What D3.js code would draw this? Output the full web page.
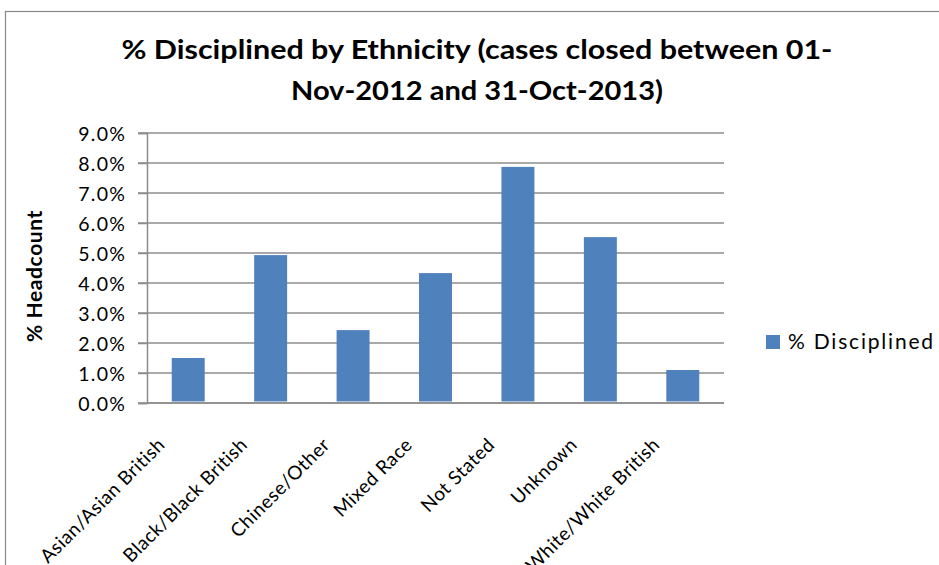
<!DOCTYPE html>
<html><head><meta charset="utf-8">
<script src="https://cdn.jsdelivr.net/npm/d3@7"></script>
<style>body{margin:0;background:#fff;} svg{display:block;}</style>
</head><body>
<script>
const categories = ["Asian/Asian British","Black/Black British","Chinese/Other","Mixed Race","Not Stated","Unknown","White/White British"];
const values = [0.015, 0.0493, 0.0243, 0.0433, 0.0787, 0.0553, 0.011];
const yTicks = [0,0.01,0.02,0.03,0.04,0.05,0.06,0.07,0.08,0.09];
const titleLines = ["% Disciplined by Ethnicity (cases closed between 01-","Nov-2012 and 31-Oct-2013)"];
const titleWidths = [711, 372];
const seriesName = "% Disciplined";

const W=939,H=565;
const font="Lato, 'Open Sans', sans-serif";
const svg=d3.select("body").append("svg").attr("width",W).attr("height",H);
svg.append("rect").attr("x",5.5).attr("y",11.5).attr("width",W).attr("height",H).attr("fill","#fff").attr("stroke","#888").attr("stroke-width",1.2);

const m={l:147,r:724,t:133,b:403};
const x=d3.scaleBand().domain(categories).range([m.l,m.r]).paddingInner(0.6).paddingOuter(0.3);
const y=d3.scaleLinear().domain([0,0.09]).range([m.b,m.t]);

// gridlines
svg.append("g").selectAll("line").data(yTicks).join("line")
 .attr("x1",138).attr("x2",m.r).attr("y1",d=>y(d)).attr("y2",d=>y(d))
 .attr("stroke","#8c8c8c").attr("stroke-width",1.5);
// y axis
const ya=svg.append("g").attr("transform",`translate(${m.l},0)`).call(d3.axisLeft(y).tickValues(yTicks).tickFormat(d3.format(".1%")).tickSize(9).tickPadding(12));
ya.select(".domain").attr("stroke","#8c8c8c").attr("stroke-width",1.5);
ya.selectAll(".tick line").attr("stroke","#8c8c8c").attr("stroke-width",1.5);
ya.selectAll("text").attr("font-family",font).attr("font-size",19.5).attr("letter-spacing",1.2).attr("fill","#000").attr("dy","0.36em");

// bars
svg.append("g").selectAll("rect").data(values).join("rect")
 .attr("x",(d,i)=>x(categories[i])).attr("width",x.bandwidth())
 .attr("y",d=>y(d)).attr("height",d=>y(0)-y(d)-1.5).attr("fill","#4f81bd");

// x axis line
svg.append("line").attr("x1",m.l).attr("x2",m.r).attr("y1",m.b).attr("y2",m.b).attr("stroke","#8c8c8c").attr("stroke-width",1.5);

// x labels
svg.append("g").selectAll("text").data(categories).join("text")
 .attr("transform",d=>`translate(${x(d)+x.bandwidth()/2-22},${m.b+43}) rotate(-45)`)
 .attr("text-anchor","end").attr("font-family",font).attr("font-size",19).attr("letter-spacing",0.5).attr("fill","#000")
 .text(d=>d);

// title
svg.append("g").selectAll("text").data(titleLines).join("text")
 .attr("x",477).attr("y",(d,i)=>59+i*41).attr("text-anchor","middle")
 .attr("font-family",font).attr("font-weight","bold").attr("font-size",27).attr("fill","#000")
 .attr("textLength",(d,i)=>titleWidths[i]).attr("lengthAdjust","spacingAndGlyphs")
 .text(d=>d);

// y label
svg.append("text").attr("transform","translate(42,276) rotate(-90)").attr("text-anchor","middle")
 .attr("font-family",font).attr("font-weight","bold").attr("font-size",21).attr("letter-spacing",0.6).text("% Headcount");

// legend
svg.append("rect").attr("x",766).attr("y",335).attr("width",14).attr("height",14).attr("fill","#4f81bd");
svg.append("text").attr("x",788).attr("y",349).attr("font-family",font).attr("font-size",21).attr("letter-spacing",1.8).text(seriesName);
</script>
</body></html>
